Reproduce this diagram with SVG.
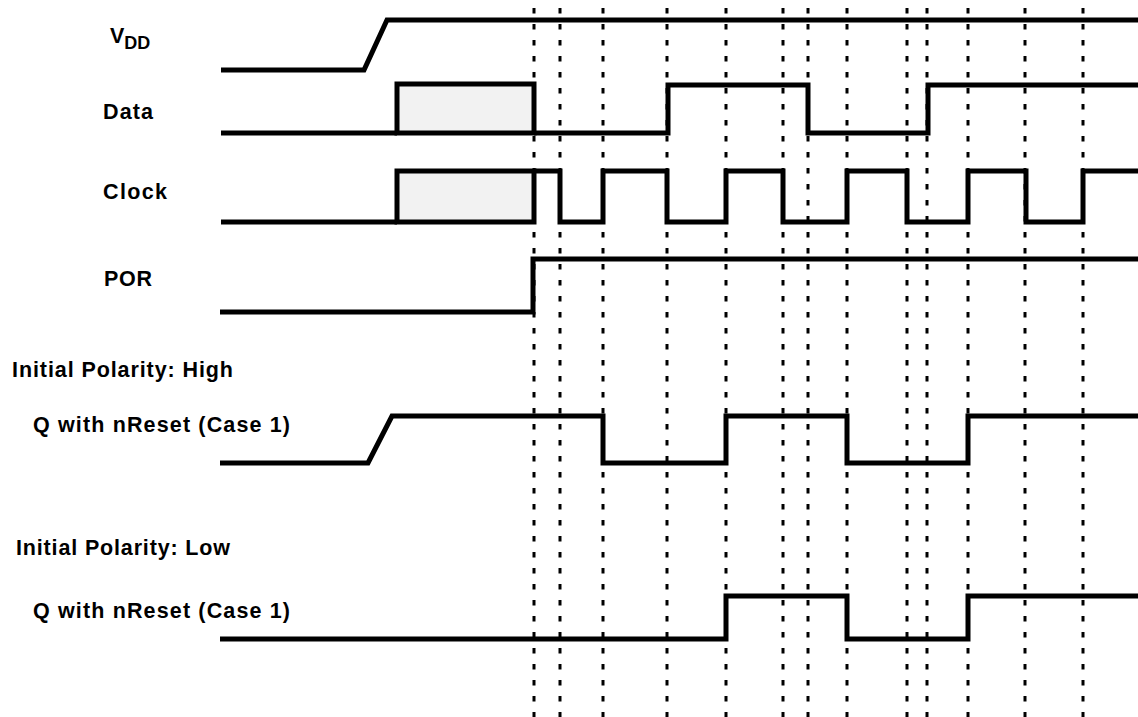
<svg xmlns="http://www.w3.org/2000/svg" width="1138" height="717" viewBox="0 0 1138 717">
<style>
.lbl{font-family:"Liberation Sans",Arial,sans-serif;font-weight:bold;font-size:21.5px;fill:#000}
.sig{fill:none;stroke:#000;stroke-width:5;stroke-linejoin:miter;stroke-linecap:butt}
.box{fill:#f2f2f2;stroke:#000;stroke-width:5}
.grid{stroke:#000;stroke-width:3;stroke-dasharray:5.5 10.5;fill:none}
</style>
<rect width="1138" height="717" fill="#fff"/>
<g id="gridlines">
<line class="grid" x1="534" y1="8" x2="534" y2="717"/>
<line class="grid" x1="560" y1="8" x2="560" y2="717"/>
<line class="grid" x1="603" y1="8" x2="603" y2="717"/>
<line class="grid" x1="667" y1="8" x2="667" y2="717"/>
<line class="grid" x1="726" y1="8" x2="726" y2="717"/>
<line class="grid" x1="783" y1="8" x2="783" y2="717"/>
<line class="grid" x1="808" y1="8" x2="808" y2="717"/>
<line class="grid" x1="847" y1="8" x2="847" y2="717"/>
<line class="grid" x1="907" y1="8" x2="907" y2="717"/>
<line class="grid" x1="927" y1="8" x2="927" y2="717"/>
<line class="grid" x1="968" y1="8" x2="968" y2="717"/>
<line class="grid" x1="1025" y1="8" x2="1025" y2="717"/>
<line class="grid" x1="1083" y1="8" x2="1083" y2="717"/>
</g>
<g id="vdd">
<text class="lbl" x="110" y="43" font-size="22">V<tspan font-size="18" dy="6">DD</tspan></text>
<path class="sig" d="M221,70 H364 L387,20 H1138"/>
</g>
<g id="data">
<text class="lbl" x="103" y="119" textLength="50">Data</text>
<path class="sig" d="M221,133 H397"/>
<rect class="box" x="397" y="84" width="137" height="49"/>
<path class="sig" d="M534,133 H668 V85 H808 V133 H928 V85 H1138"/>
</g>
<g id="clock">
<text class="lbl" x="103" y="199" textLength="64">Clock</text>
<path class="sig" d="M221,222 H397"/>
<rect class="box" x="397" y="171" width="137" height="51"/>
<path class="sig" d="M534,171 H560 V222 H603 V171 H667 V222 H726 V171 H783 V222 H847 V171 H907 V222 H968 V171 H1026 V222 H1083 V171 H1138"/>
</g>
<g id="por">
<text class="lbl" x="104" y="286" textLength="48">POR</text>
<path class="sig" d="M220,312 H533 V259 H1138"/>
</g>
<g id="q-high">
<text class="lbl" x="12" y="377" textLength="221">Initial Polarity: High</text>
<text class="lbl" x="33" y="432" textLength="257">Q with nReset (Case 1)</text>
<path class="sig" d="M220,463 H368 L392,416 H603 V463 H726 V416 H847 V463 H968 V416 H1138"/>
</g>
<g id="q-low">
<text class="lbl" x="16" y="555" textLength="214">Initial Polarity: Low</text>
<text class="lbl" x="33" y="618" textLength="257">Q with nReset (Case 1)</text>
<path class="sig" d="M220,639 H726 V596 H847 V639 H968 V596 H1138"/>
</g>
</svg>
